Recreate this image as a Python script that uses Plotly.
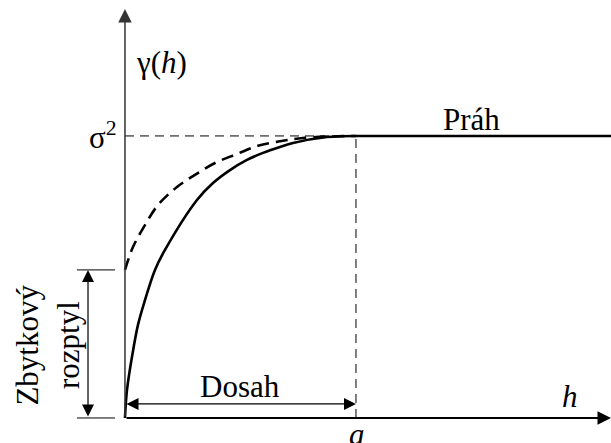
import plotly.graph_objects as go

# Semivariogram sketch: lag h against semivariance gamma(h)
RANGE_A = 10.0          # dosah (range)
SILL = 1.0              # prah (sill, sigma^2)
NUGGET = 0.525          # zbytkovy rozptyl (nugget)
H_MAX = 21.04           # end of the h axis
GAMMA_MAX = 1.45        # end of the gamma axis

# model without nugget (solid)
solid_h = [0.0, 0.087, 0.303, 0.563, 0.866, 1.299, 1.732, 3.117, 3.810,
           4.545, 5.281, 5.974, 6.710, 7.273, 8.745, 10.0]
solid_g = [0.0, 0.099, 0.216, 0.330, 0.418, 0.525, 0.596, 0.773, 0.833,
           0.879, 0.915, 0.940, 0.961, 0.975, 0.996, 1.0]

# model with nugget (dashed)
dashed_h = [0.0, 0.346, 0.866, 1.429, 2.251, 3.030, 3.896, 4.848, 5.758, 6.580, 7.706, 10.0]
dashed_g = [0.525, 0.606, 0.684, 0.755, 0.819, 0.862, 0.904, 0.936, 0.965, 0.979, 0.993, 1.0]

FONT = "Liberation Serif"
INK = "black"

fig = go.Figure()

fig.add_trace(go.Scatter(x=solid_h, y=solid_g, mode="lines",
                         line=dict(color=INK, width=2.6, shape="spline", smoothing=1.0),
                         hoverinfo="skip"))
fig.add_trace(go.Scatter(x=dashed_h, y=dashed_g, mode="lines",
                         line=dict(color=INK, width=2.6, dash="12px,7px",
                                   shape="spline", smoothing=1.0),
                         hoverinfo="skip"))
# sill plateau beyond the range
fig.add_trace(go.Scatter(x=[RANGE_A, H_MAX], y=[SILL, SILL], mode="lines",
                         line=dict(color=INK, width=2.6), hoverinfo="skip"))

# dashed guides to the sill level and to the range
fig.add_shape(type="line", x0=0, x1=RANGE_A, y0=SILL, y1=SILL,
              line=dict(color=INK, width=1, dash="9px,6px"))
fig.add_shape(type="line", x0=RANGE_A, x1=RANGE_A, y0=0, y1=SILL,
              line=dict(color=INK, width=1, dash="9px,6px"))

# tick lines bounding the nugget dimension
for yv in (0.0, NUGGET):
    fig.add_shape(type="line", x0=-2.08, x1=-0.43, y0=yv, y1=yv,
                  line=dict(color=INK, width=1))


def arrow(x0, y0, x1, y1, width, size, side="end", color=INK):
    fig.add_annotation(x=x1, y=y1, ax=x0, ay=y0, xref="x", yref="y",
                       axref="x", ayref="y", text="", showarrow=True,
                       arrowhead=2, arrowside=side, arrowwidth=width,
                       arrowsize=size, arrowcolor=color,
                       standoff=0, startstandoff=0)


# axes with arrowheads
arrow(0, 0, 0, GAMMA_MAX, 1.5, 1.8, color="#333333")
arrow(0, 0, H_MAX, 0, 2, 1.35)
# dosah and nugget dimension arrows
arrow(0, 0.05, RANGE_A, 0.05, 1.2, 2.0, side="end+start")
arrow(-1.6, 0, -1.6, NUGGET, 1.2, 2.0, side="end+start")


def label(x, y, text, size=31, angle=0):
    fig.add_annotation(x=x, y=y, xref="x", yref="y", text=text, showarrow=False,
                       textangle=angle, font=dict(family=FONT, size=size, color=INK),
                       xanchor="center", yanchor="middle")


label(1.6, 1.26, "γ(<i>h</i>)")
label(-0.95, 1.0, "σ<sup>2</sup>")
label(14.98, 1.06, "Práh")
label(4.98, 0.11, "Dosah")
label(19.26, 0.075, "<i>h</i>")
label(10.04, -0.06, "<i>a</i>")
label(-4.2, 0.26, "Zbytkový", angle=-90)
label(-2.45, 0.26, "rozptyl", angle=-90)

fig.update_layout(
    width=611, height=443,
    margin=dict(l=0, r=0, t=0, b=0),
    paper_bgcolor="white", plot_bgcolor="white",
    showlegend=False,
    font=dict(family=FONT),
    xaxis=dict(range=[-5.41, H_MAX], visible=False, fixedrange=True),
    yaxis=dict(range=[-0.0887, 1.482], visible=False, fixedrange=True),
)

fig.write_html("out.html")
